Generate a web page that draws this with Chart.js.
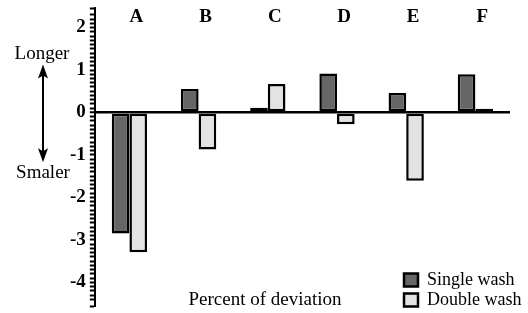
<!DOCTYPE html>
<html>
<head>
<meta charset="utf-8">
<script src="https://cdn.jsdelivr.net/npm/chart.js@4.4.1/dist/chart.umd.min.js"></script>
<style>
  html, body { margin: 0; padding: 0; background: #fff; }
</style>
</head>
<body>
<canvas id="myChart" width="528" height="313"></canvas>
<script>
// values
var categories = ['A', 'B', 'C', 'D', 'E', 'F'];
var singleWash = [-2.85, 0.55, 0.11, 0.92, 0.46, 0.90];
var doubleWash = [-3.29, -0.87, 0.67, -0.28, -1.61, 0.09];
var seriesNames = ['Single wash', 'Double wash'];
var yMin = -4.56, yMax = 2.46;

var serif = '"Liberation Serif", "DejaVu Serif", serif';
Chart.defaults.font.family = serif;
Chart.defaults.color = '#000';

// the legend sits inside the plot, bottom right
var legendSpot = {
  id: 'legendSpot',
  afterLayout: function(chart) {
    var lg = chart.legend;
    lg.left = 402;
    lg.right = lg.left + lg.width;
    lg.top = 269;
    lg.bottom = chart.height;
  }
};

// side captions, arrow and bottom caption
var sideNotes = {
  id: 'sideNotes',
  afterDraw: function(chart) {
    var ctx = chart.ctx, y = chart.scales.y;
    ctx.save();
    ctx.fillStyle = '#000';
    ctx.strokeStyle = '#000';
    ctx.font = '19px ' + serif;
    ctx.textAlign = 'center';
    ctx.textBaseline = 'middle';
    ctx.fillText('Longer', 42, y.getPixelForValue(1.38));
    ctx.fillText('Smaler', 43, y.getPixelForValue(-1.43));
    ctx.fillText('Percent of deviation', 265, 300);

    var ax = 43;
    var top = y.getPixelForValue(1.13), bot = y.getPixelForValue(-1.17);
    ctx.lineWidth = 2;
    ctx.beginPath();
    ctx.moveTo(ax, top + 8);
    ctx.lineTo(ax, bot - 8);
    ctx.stroke();
    ctx.beginPath();
    ctx.moveTo(ax, top);
    ctx.lineTo(ax - 5, top + 14);
    ctx.lineTo(ax, top + 11);
    ctx.lineTo(ax + 5, top + 14);
    ctx.closePath();
    ctx.fill();
    ctx.beginPath();
    ctx.moveTo(ax, bot);
    ctx.lineTo(ax - 5, bot - 14);
    ctx.lineTo(ax, bot - 11);
    ctx.lineTo(ax + 5, bot - 14);
    ctx.closePath();
    ctx.fill();
    ctx.restore();
  }
};

var ctx = document.getElementById('myChart').getContext('2d');
var myChart = new Chart(ctx, {
  type: 'bar',
  data: {
    labels: categories,
    datasets: [{
      label: seriesNames[0],
      data: singleWash,
      backgroundColor: '#666666',
      borderColor: '#000',
      borderWidth: 2.5,
      borderSkipped: false
    }, {
      label: seriesNames[1],
      data: doubleWash,
      backgroundColor: '#e3e3e3',
      borderColor: '#000',
      borderWidth: 2.5,
      borderSkipped: false
    }]
  },
  options: {
    responsive: false,
    animation: false,
    datasets: {
      bar: { barPercentage: 1, categoryPercentage: 0.51 }
    },
    layout: {
      padding: { left: 66, right: 18, top: 8, bottom: -2 }
    },
    plugins: {
      title: { display: false },
      tooltip: { enabled: false },
      legend: {
        position: 'chartArea',
        align: 'start',
        labels: {
          boxWidth: 14,
          boxHeight: 13,
          padding: 2,
          font: { size: 18 }
        }
      }
    },
    scales: {
      x: {
        position: { y: yMax },
        offset: true,
        grid: { display: false, drawTicks: false },
        border: { display: false },
        ticks: {
          padding: -2,
          labelOffset: 7,
          font: { size: 19, weight: 'bold' }
        }
      },
      y: {
        min: yMin,
        max: yMax,
        border: { color: '#000', width: 2 },
        grid: {
          drawOnChartArea: true,
          color: function(c) {
            return c.tick && Math.abs(c.tick.value) < 1e-9 ? '#000' : 'rgba(0,0,0,0)';
          },
          lineWidth: function(c) {
            return c.tick && Math.abs(c.tick.value) < 1e-9 ? 2.5 : 1;
          },
          tickColor: '#000',
          tickWidth: 2,
          tickLength: 5
        },
        ticks: {
          stepSize: 0.1,
          autoSkip: false,
          padding: 4,
          font: { size: 19, weight: 'bold', lineHeight: 0.3 },
          callback: function(v) {
            var r = Math.round(v);
            return Math.abs(v - r) < 1e-6 ? String(r) : '';
          }
        }
      }
    }
  },
  plugins: [legendSpot, sideNotes]
});
</script>
</body>
</html>
